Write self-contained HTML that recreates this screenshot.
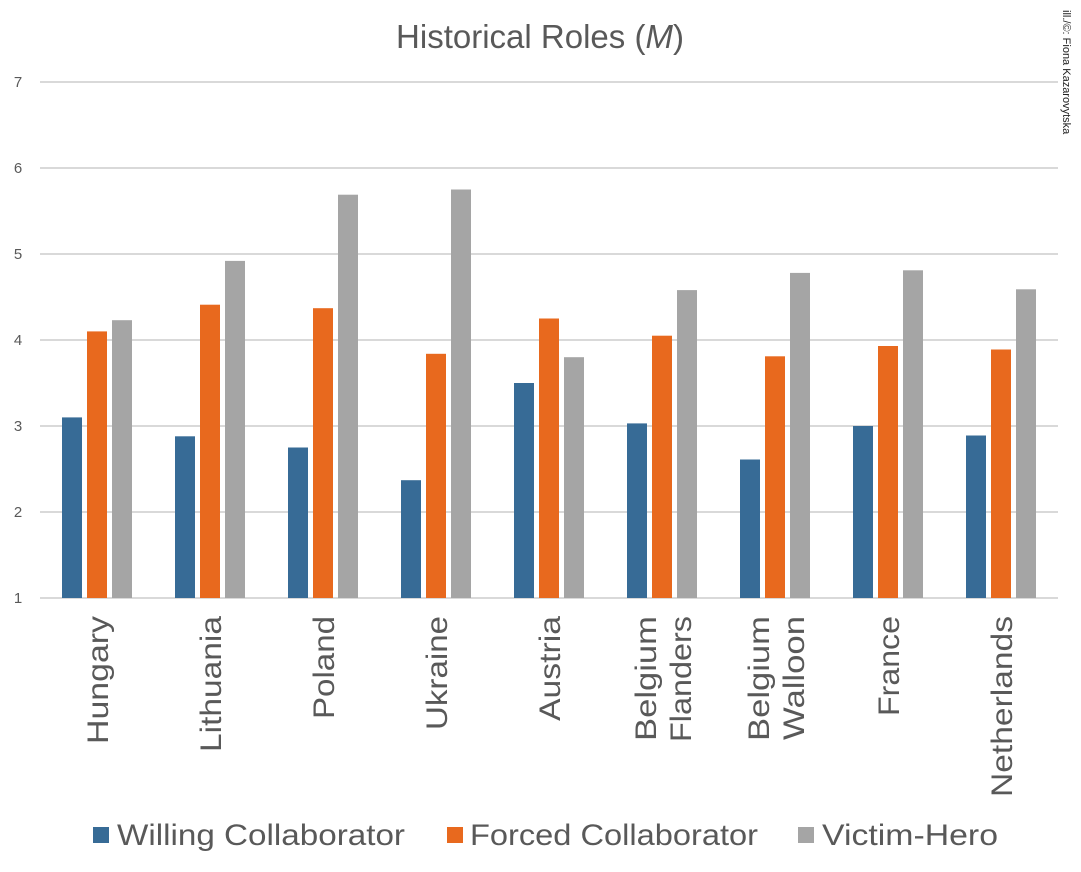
<!DOCTYPE html>
<html><head><meta charset="utf-8"><style>body{margin:0;background:#fff}svg{display:block}</style></head><body>
<svg width="1081" height="872" xmlns="http://www.w3.org/2000/svg" font-family="Liberation Sans, sans-serif">
<rect width="1081" height="872" fill="#fff"/>
<text x="540" y="48" text-anchor="middle" font-size="33" fill="#595959">Historical Roles (<tspan font-style="italic">M</tspan>)</text>
<text transform="translate(1063,10) rotate(90)" font-size="11" fill="#222">ill./©: Fiona Kazarovytska</text>
<g stroke="#d9d9d9" stroke-width="2">
<line x1="40" x2="1058" y1="82" y2="82"/><line x1="40" x2="1058" y1="168" y2="168"/><line x1="40" x2="1058" y1="254" y2="254"/><line x1="40" x2="1058" y1="340" y2="340"/><line x1="40" x2="1058" y1="426" y2="426"/><line x1="40" x2="1058" y1="512" y2="512"/><line x1="40" x2="1058" y1="598" y2="598"/>
</g>
<g font-size="15" fill="#595959" text-anchor="middle">
<text x="18" y="87">7</text><text x="18" y="173">6</text><text x="18" y="259">5</text><text x="18" y="345">4</text><text x="18" y="431">3</text><text x="18" y="517">2</text><text x="18" y="603">1</text>
</g>
<g fill="#376b96">
<rect x="62" y="417.4" width="20" height="180.6"/>
<rect x="175" y="436.3" width="20" height="161.7"/>
<rect x="288" y="447.5" width="20" height="150.5"/>
<rect x="401" y="480.2" width="20" height="117.8"/>
<rect x="514" y="383" width="20" height="215"/>
<rect x="627" y="423.4" width="20" height="174.6"/>
<rect x="740" y="459.5" width="20" height="138.5"/>
<rect x="853" y="426" width="20" height="172"/>
<rect x="966" y="435.5" width="20" height="162.5"/>
</g>
<g fill="#e8691e">
<rect x="87" y="331.4" width="20" height="266.6"/>
<rect x="200" y="304.7" width="20" height="293.3"/>
<rect x="313" y="308.2" width="20" height="289.8"/>
<rect x="426" y="353.8" width="20" height="244.2"/>
<rect x="539" y="318.5" width="20" height="279.5"/>
<rect x="652" y="335.7" width="20" height="262.3"/>
<rect x="765" y="356.3" width="20" height="241.7"/>
<rect x="878" y="346" width="20" height="252"/>
<rect x="991" y="349.5" width="20" height="248.5"/>
</g>
<g fill="#a5a5a5">
<rect x="112" y="320.2" width="20" height="277.8"/>
<rect x="225" y="260.9" width="20" height="337.1"/>
<rect x="338" y="194.7" width="20" height="403.3"/>
<rect x="451" y="189.5" width="20" height="408.5"/>
<rect x="564" y="357.2" width="20" height="240.8"/>
<rect x="677" y="290.1" width="20" height="307.9"/>
<rect x="790" y="272.9" width="20" height="325.1"/>
<rect x="903" y="270.3" width="20" height="327.7"/>
<rect x="1016" y="289.3" width="20" height="308.7"/>
</g>
<g font-size="30" fill="#595959" text-anchor="end" lengthAdjust="spacingAndGlyphs">
<text transform="translate(108,616) rotate(-90)" textLength="128" lengthAdjust="spacingAndGlyphs">Hungary</text>
<text transform="translate(221,616) rotate(-90)" textLength="136" lengthAdjust="spacingAndGlyphs">Lithuania</text>
<text transform="translate(334,616) rotate(-90)" textLength="103" lengthAdjust="spacingAndGlyphs">Poland</text>
<text transform="translate(447,616) rotate(-90)" textLength="114" lengthAdjust="spacingAndGlyphs">Ukraine</text>
<text transform="translate(560,616) rotate(-90)" textLength="105" lengthAdjust="spacingAndGlyphs">Austria</text>
<text transform="translate(656,616) rotate(-90)" textLength="125" lengthAdjust="spacingAndGlyphs">Belgium</text>
<text transform="translate(691,616) rotate(-90)" textLength="126" lengthAdjust="spacingAndGlyphs">Flanders</text>
<text transform="translate(769,616) rotate(-90)" textLength="125" lengthAdjust="spacingAndGlyphs">Belgium</text>
<text transform="translate(804,616) rotate(-90)" textLength="124" lengthAdjust="spacingAndGlyphs">Walloon</text>
<text transform="translate(899,616) rotate(-90)" textLength="100" lengthAdjust="spacingAndGlyphs">France</text>
<text transform="translate(1012,616) rotate(-90)" textLength="181" lengthAdjust="spacingAndGlyphs">Netherlands</text>
</g>
<rect x="93" y="827" width="16" height="16" fill="#376b96"/>
<text x="117" y="845" font-size="30" fill="#595959" textLength="288" lengthAdjust="spacingAndGlyphs">Willing Collaborator</text>
<rect x="447" y="827" width="16" height="16" fill="#e8691e"/>
<text x="470" y="845" font-size="30" fill="#595959" textLength="288" lengthAdjust="spacingAndGlyphs">Forced Collaborator</text>
<rect x="798" y="827" width="16" height="16" fill="#a5a5a5"/>
<text x="822" y="845" font-size="30" fill="#595959" textLength="176" lengthAdjust="spacingAndGlyphs">Victim-Hero</text>
</svg>
</body></html>
